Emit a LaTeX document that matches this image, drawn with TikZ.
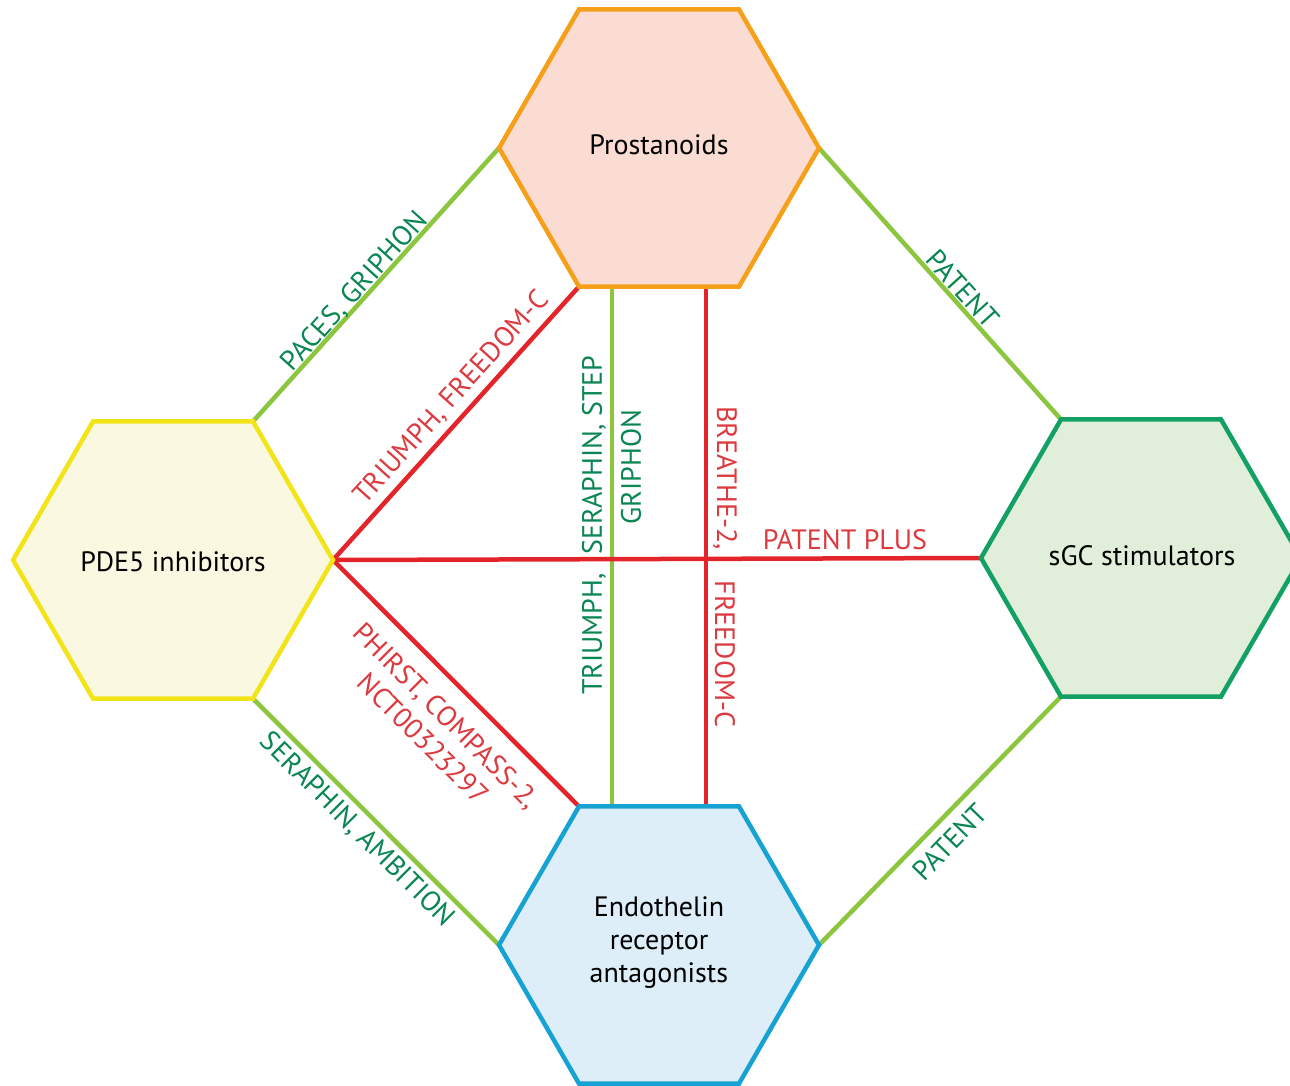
\documentclass[tikz,border=0pt]{standalone}
\usepackage{fontspec}
\setmainfont{PT Sans}
\usetikzlibrary{shapes.geometric}
\definecolor{lgreen}{HTML}{8CC63F}
\definecolor{lred}{HTML}{E3242B}
\definecolor{tgreen}{HTML}{0A8652}
\definecolor{tred}{HTML}{DC3A3F}
\definecolor{proB}{HTML}{F6A01A}
\definecolor{proF}{HTML}{FBDCD3}
\definecolor{pdeB}{HTML}{F3E41A}
\definecolor{pdeF}{HTML}{FAF8E1}
\definecolor{sgcB}{HTML}{12A064}
\definecolor{sgcF}{HTML}{E1EED9}
\definecolor{endB}{HTML}{17A2D4}
\definecolor{endF}{HTML}{DDEEF9}
\tikzset{
  hexa/.style={regular polygon, regular polygon sides=6, minimum size=320pt,
    inner sep=0pt, outer sep=0pt, line width=4.5pt, align=center,
    font=\fontsize{28}{33}\selectfont},
  glink/.style={line width=4.5pt, draw=lgreen},
  rlink/.style={line width=4.5pt, draw=lred},
  glab/.style={text=tgreen, inner sep=0pt, font=\fontsize{28}{33}\selectfont},
  rlab/.style={text=tred, inner sep=0pt, align=center, font=\fontsize{28}{33}\selectfont}
}
\begin{document}
\begin{tikzpicture}[x=1pt,y=-1pt]
\useasboundingbox[fill=white] (0,0) rectangle (1290,1085);
% anchor-only hexagons used for connector end points
\node[hexa, draw=none] (pro) at (659,148) {};
\node[hexa, draw=none] (pde) at (173,560) {};
\node[hexa, draw=none] (sgc) at (1141,558) {};
\node[hexa, draw=none] (endo) at (659,945) {};

\draw[glink] (pde.60) -- (pro.180);
\draw[glink] (pro.0) -- (sgc.120);
\draw[glink] (sgc.240) -- (endo.0);
\draw[glink] (pde.300) -- (endo.180);
\draw[glink] ([xshift=-47pt]pro.south) -- ([xshift=-47pt]endo.north);
\draw[rlink] (pde.0) -- (sgc.180);
\draw[rlink] (pde.0) -- (pro.240);
\draw[rlink] (pde.0) -- (endo.120);
\draw[rlink] ([xshift=47pt]pro.south) -- ([xshift=47pt]endo.north);

\node[hexa, draw=proB, fill=proF] (proH) at (659,148) {};
\node[hexa, draw=pdeB, fill=pdeF] (pdeH) at (173,560) {};
\node[hexa, draw=sgcB, fill=sgcF] (sgcH) at (1141,558) {};
\node[hexa, draw=endB, fill=endF] (endoH) at (659,945) {};
\node[font=\fontsize{28}{33}\selectfont] (proT) at (659,145) {Prostanoids};
\node[font=\fontsize{28}{33}\selectfont] (pdeT) at (173,562) {PDE5 inhibitors};
\node[font=\fontsize{28}{33}\selectfont] (sgcT) at (1142,556) {sGC stimulators};
\node[font=\fontsize{28}{33}\selectfont, align=center] (endoT) at (659,943) {Endothelin\\receptor\\antagonists};

% labels
\node[glab, rotate=48] (l1) at (355,292) {PACES, GRIPHON};
\node[rlab, rotate=48] (l2) at (452,398) {TRIUMPH, FREEDOM-C};
\node[glab, rotate=-48] (l3) at (963,289) {PATENT};
\node[glab, rotate=46] (l4) at (950,842) {PATENT};
\node[glab, rotate=-45] (l5) at (357,830) {SERAPHIN, AMBITION};
\node[rlab, rotate=-45] (l6) at (435,727) {PHIRST, COMPASS-2,\\NCT00323297};
\node[rlab] (l7) at (845,540) {PATENT PLUS};
\node[glab, rotate=90] (l8) at (594,455) {SERAPHIN, STEP};
\node[glab, rotate=90] (l9) at (631,467) {GRIPHON};
\node[glab, rotate=90] (l10) at (594,634) {TRIUMPH,};
\node[rlab, rotate=-90] (l11) at (725,478) {BREATHE-2,};
\node[rlab, rotate=-90] (l12) at (725,654) {FREEDOM-C};
\end{tikzpicture}
\end{document}
